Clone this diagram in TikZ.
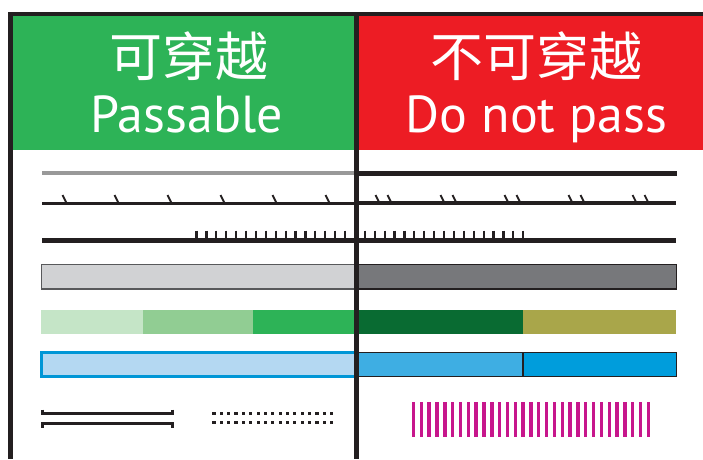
\documentclass[tikz,border=0pt]{standalone}
\usepackage{fontspec}
\setmainfont{PT Sans}
\newfontfamily\cjk{Noto Sans CJK SC}
\usepackage{tikz}
\definecolor{frame}{RGB}{35,31,32}
\definecolor{okgreen}{RGB}{45,179,87}
\definecolor{nored}{RGB}{237,28,36}
\definecolor{lightgray}{RGB}{209,210,212}
\definecolor{midgray}{RGB}{88,89,91}
\definecolor{darkgray}{RGB}{119,120,123}
\definecolor{green1}{RGB}{197,229,199}
\definecolor{green2}{RGB}{145,205,147}
\definecolor{green4}{RGB}{9,107,50}
\definecolor{olive}{RGB}{169,166,74}
\definecolor{blue1}{RGB}{180,216,242}
\definecolor{blueline}{RGB}{0,150,214}
\definecolor{blue2}{RGB}{62,174,227}
\definecolor{blue3}{RGB}{0,157,220}
\definecolor{magenta}{RGB}{199,22,140}

\begin{document}
\begin{tikzpicture}[x=1pt,y=-1pt,
  title/.style={text=white,inner sep=0pt},
  zh/.style={title,font=\cjk\fontsize{53}{53}\selectfont},
  en/.style={title,font=\fontsize{52}{52}\selectfont,anchor=base}]
\useasboundingbox (0,0) rectangle (703,459);
% Headers
\fill[okgreen] (13,16) rectangle (354.5,150);
\fill[nored] (358.5,16) rectangle (703,150);
\node[zh] (passzh) at (188.5,56) {可穿越};
\node[en] (passen) at (186.5,132) {Passable};
\node[zh] (nopasszh) at (536.5,56) {不可穿越};
\node[en] (nopassen) at (536.5,132) {Do not pass};
% Row 1
\draw[line width=4.8pt,gray!80] (42,173) -- (356,173); % grey line
\draw[line width=5pt,frame] (356,173) -- (677,173); % black line
% Row 2
\draw[line width=3pt,frame] (42,203) -- (356,203);
\foreach \x in {65,117,170,223,275,328}
  \draw[line width=1.8pt,frame] (\x-2.5,195) -- (\x+1.5,203); % single ticks
\draw[line width=4.5pt,frame] (356,203) -- (676,203);
\foreach \x in {378,443,507,571,635}{
  \draw[line width=1.8pt,frame] (\x-2.5,195) -- (\x+1.5,203); % paired ticks
  \draw[line width=1.8pt,frame] (\x+9.5,195) -- (\x+13.5,203);}
% Row 3
\draw[line width=5pt,frame] (42,240) -- (676,240);
\foreach \i in {0,...,33}
  \draw[line width=2.2pt,frame] (196.5+9.9*\i,230.5) -- (196.5+9.9*\i,240);
% Row 4
\filldraw[draw=midgray,fill=lightgray,line width=1.2pt] (41.5,264.5) rectangle (356,289);
\filldraw[draw=frame,fill=darkgray,line width=1.8pt] (356,264.5) rectangle (676.5,289);
% Row 5
\fill[green1] (41,310) rectangle (143,334);
\fill[green2] (143,310) rectangle (253,334);
\fill[okgreen] (253,310) rectangle (356,334);
\fill[green4] (356,310) rectangle (523,334);
\fill[olive] (523,310) rectangle (676,334);
% Row 6
\filldraw[draw=blueline,fill=blue1,line width=2.2pt] (41.5,352.5) rectangle (356,376.5);
\filldraw[draw=frame,fill=blue2,line width=1.8pt] (356,352.5) rectangle (523,376.5);
\filldraw[draw=frame,fill=blue3,line width=1.8pt] (523,352.5) rectangle (676.5,376.5);
% Row 7
\draw[line width=3.2pt,frame] (42,413.5) -- (173,413.5); % double line
\draw[line width=3.2pt,frame] (42,423.5) -- (173,423.5);
\draw[line width=2.5pt,frame] (42.5,409.5) -- (42.5,415) (172.5,409.5) -- (172.5,415);
\draw[line width=2.5pt,frame] (42.5,422) -- (42.5,427.5) (172.5,422) -- (172.5,427.5);
\foreach \i in {0,...,16}{
  \fill[frame] (214+7.35*\i-1.6,411.7) rectangle ++(3.2,3.2); % dotted line
  \fill[frame] (214+7.35*\i-1.6,421.2) rectangle ++(3.2,3.2);}
\foreach \i in {0,...,30}
  \fill[magenta] (413.5+7.83*\i-1.7,402) rectangle ++(3.4,35); % stripes
% Frame
\draw[line width=4.8pt,frame] (8,14) -- (703,14); % top
\draw[line width=4.8pt,frame] (10.5,12) -- (10.5,459); % left
\draw[line width=4.8pt,frame] (356.5,12) -- (356.5,459); % divider
\end{tikzpicture}
\end{document}
